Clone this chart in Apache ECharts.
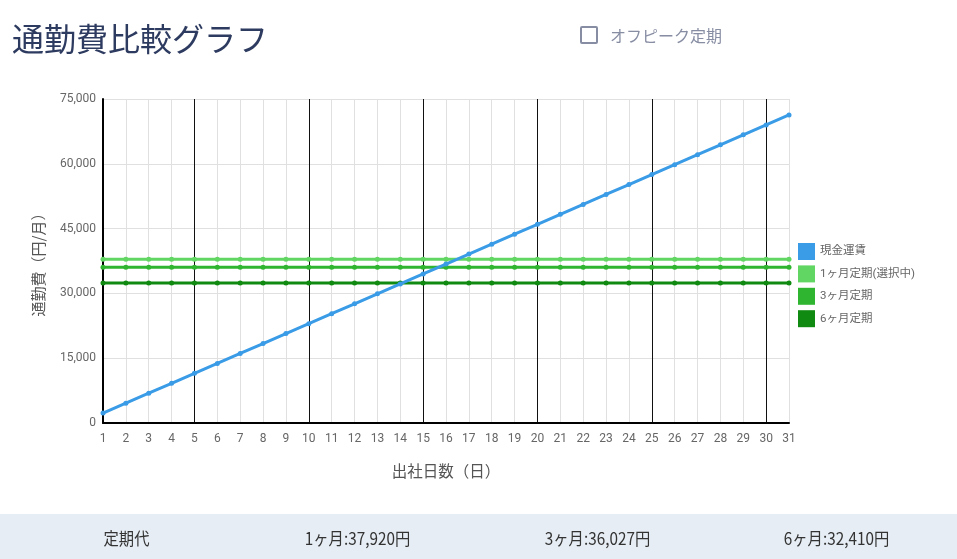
<!DOCTYPE html>
<html><head><meta charset="utf-8">
<script src="https://cdn.jsdelivr.net/npm/echarts@6/dist/echarts.min.js"></script>
<style>
html,body{margin:0;padding:0;width:957px;height:559px;background:#fff;overflow:hidden;font-family:"Noto Sans CJK JP","Noto Sans",sans-serif;}
#chart{position:absolute;left:0;top:0;width:957px;height:559px;}
#title{position:absolute;left:12px;top:14px;font-size:32px;color:#2e3b60;line-height:46px;}
#chk{position:absolute;left:580px;top:26px;width:14px;height:14px;border:2px solid #878da3;border-radius:2px;}
#chklbl{position:absolute;left:610px;top:25px;font-size:16px;color:#878da3;line-height:20px;}
#bar{position:absolute;left:0;top:514px;width:957px;height:45px;background:#e6edf4;}
#bar div{position:absolute;top:0;width:239px;line-height:47px;text-align:center;font-size:17px;color:#333;font-family:"Noto Sans CJK JP",sans-serif;transform:scaleX(0.9);}
</style></head>
<body>
<div id="chart"></div>
<div id="title">通勤費比較グラフ</div>
<div id="chk"></div>
<div id="chklbl">オフピーク定期</div>
<div id="bar"><div style="left:7px">定期代</div><div style="left:238px">1ヶ月:37,920円</div><div style="left:478px">3ヶ月:36,027円</div><div style="left:717px">6ヶ月:32,410円</div></div>
<script>
const days = ['1','2','3','4','5','6','7','8','9','10','11','12','13','14','15','16','17','18','19','20','21','22','23','24','25','26','27','28','29','30','31'];
const cashFare = [2300,4600,6900,9200,11500,13800,16100,18400,20700,23000,25300,27600,29900,32200,34500,36800,39100,41400,43700,46000,48300,50600,52900,55200,57500,59800,62100,64400,66700,69000,71300];
const pass1 = 37920, pass3 = 36027, pass6 = 32410;
const line1 = days.map(() => pass1);
const line3 = days.map(() => pass3);
const line6 = days.map(() => pass6);
const seriesNames = ['現金運賃','1ヶ月定期(選択中)','3ヶ月定期','6ヶ月定期'];
const colors = ['#3a9be6','#62d662','#2fb52f','#108a10'];
const yTicks = {min:0, max:75000, interval:15000};

const chart = echarts.init(document.getElementById('chart'));
const lab = {fontFamily:'Roboto, "Noto Sans CJK JP", sans-serif', fontSize:12, color:'#666'};
function mk(name, data, color, z){
  return {name, type:'line', data, color, z, showAllSymbol:true, symbol:'circle', symbolSize:5,
    lineStyle:{width:3,color}, itemStyle:{color}, animation:false, emphasis:{disabled:true}};
}
chart.setOption({
  animation:false,
  grid:{left:103, right:168, top:99, bottom:136},
  legend:{orient:'vertical', left:798, top:243, padding:0, itemWidth:17, itemHeight:17, itemGap:5.4,
    icon:'rect', textStyle:{fontSize:11.5, color:'#666', fontFamily:'Roboto, "Noto Sans CJK JP", sans-serif', padding:[0,0,0,0]},
    data:seriesNames, selectedMode:false},
  xAxis:{type:'category', data:days, boundaryGap:false,
    name:'出社日数（日）', nameLocation:'middle', nameGap:40,
    nameTextStyle:{fontSize:15.5, color:'#555', fontFamily:'"Noto Sans CJK JP", sans-serif'},
    axisLine:{lineStyle:{color:'#000', width:2}}, axisTick:{show:false},
    axisLabel:Object.assign({margin:10, interval:0}, lab),
    splitLine:{show:true, showMinLine:true, showMaxLine:true, lineStyle:{color:['#e0e0e0','#e0e0e0','#e0e0e0','#e0e0e0','#111'], width:1}}},
  yAxis:{type:'value', min:yTicks.min, max:yTicks.max, interval:yTicks.interval,
    name:'通勤費（円/月）', nameLocation:'middle', nameGap:57, nameRotate:90,
    nameTextStyle:{fontSize:15, color:'#555', fontFamily:'"Noto Sans CJK JP", sans-serif'},
    axisLine:{show:true, lineStyle:{color:'#000', width:2}}, axisTick:{show:false},
    axisLabel:Object.assign({margin:7, formatter:v=>v.toLocaleString('en-US')}, lab),
    splitLine:{show:true, lineStyle:{color:'#e0e0e0', width:1}}},
  series:[
    mk(seriesNames[0], cashFare, colors[0], 5),
    mk(seriesNames[1], line1, colors[1], 3),
    mk(seriesNames[2], line3, colors[2], 3),
    mk(seriesNames[3], line6, colors[3], 3)
  ]
});
</script>
</body></html>
